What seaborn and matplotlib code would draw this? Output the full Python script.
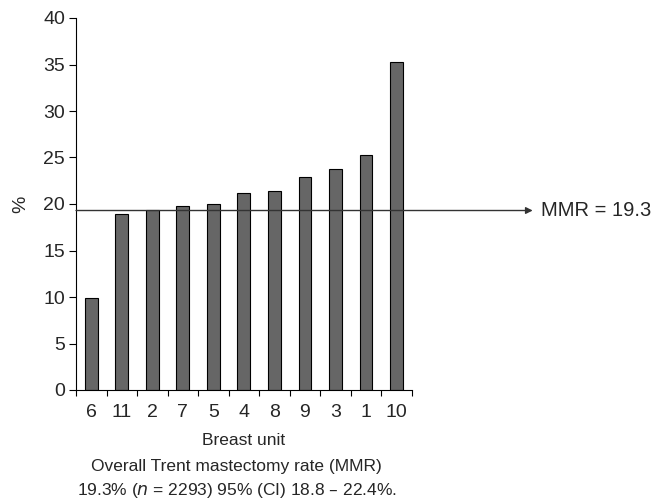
import matplotlib
matplotlib.use('Agg')
import matplotlib.pyplot as plt
import seaborn as sns
import pandas as pd

## 데이터
units = ['6', '11', '2', '7', '5', '4', '8', '9', '3', '1', '10']
rates = [9.9, 18.9, 19.4, 19.8, 20.0, 21.2, 21.4, 22.9, 23.8, 25.3, 35.3]
mmr = 19.3

df = pd.DataFrame({'unit': units, 'rate': rates})

sns.set_style('white')
plt.rcParams['font.family'] = ['Liberation Sans', 'DejaVu Sans']

fig = plt.figure(figsize=(6.61, 5), dpi=100)
ax = fig.add_axes([0.115, 0.22, 0.508, 0.744])

sns.barplot(data=df, x='unit', y='rate', order=units, color='#666666',
            edgecolor='black', linewidth=0.8, width=0.42, saturation=1, ax=ax)

## 축 설정
ax.set_xlim(-0.5, len(units) - 0.5)
ax.set_ylim(0, 40)
ax.set_yticks(range(0, 41, 5))
ax.set_xticks([i - 0.5 for i in range(len(units) + 1)], minor=True)
ax.tick_params(axis='x', which='major', length=0, pad=10, labelsize=14, bottom=True)
ax.tick_params(axis='x', which='minor', length=4, width=0.8, color='black',
               direction='out', bottom=True)
ax.tick_params(axis='y', length=5, width=0.8, color='black', direction='out',
               labelsize=14, pad=3, left=True)
sns.despine(ax=ax)
for s in ['left', 'bottom']:
    ax.spines[s].set_color('black')
    ax.spines[s].set_linewidth(0.8)

ax.set_xlabel('Breast unit', fontsize=12.5, labelpad=9)
ax.set_ylabel('%', fontsize=14, labelpad=10)

## MMR 기준선 (화살표)
ax.annotate('', xy=(1.36, mmr), xytext=(0, mmr),
            xycoords=ax.get_yaxis_transform(), textcoords=ax.get_yaxis_transform(),
            arrowprops=dict(arrowstyle='-|>', color='#333333', lw=1.0,
                            mutation_scale=10, shrinkA=0, shrinkB=0),
            annotation_clip=False)
ax.text(1.385, mmr, 'MMR = 19.3', transform=ax.get_yaxis_transform(),
        va='center', ha='left', fontsize=14.5)

## 캡션
fig.text(0.358, 0.068, 'Overall Trent mastectomy rate (MMR)', ha='center', va='center',
         fontsize=12.5)
fig.text(0.358, 0.02, r'19.3% ($\it{n}$ = 2293) 95% (CI) 18.8 – 22.4%.', ha='center', va='center',
         fontsize=12.5)

fig.savefig('out.png', dpi=100)
